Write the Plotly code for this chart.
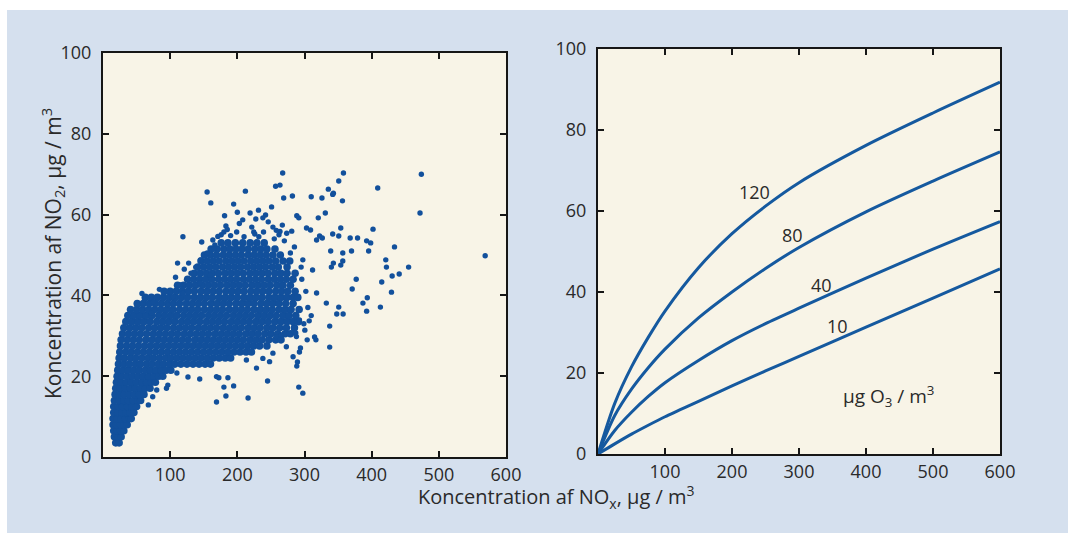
import plotly.graph_objects as go

# ---------------- Left panel: scatter (NOx vs NO2) ----------------
# Dense core of the cloud, typed row by row: NO2 level of each row and its NOx values
CORE_NO2_ROWS = [3.5, 5, 6.5, 8, 9.5, 11, 12.5, 14, 15.5, 17, 18.5, 20, 21.5, 23, 24.5,
                 26, 27.5, 29, 30.5, 32, 33.5, 35, 36.5, 38, 39.5, 41, 42.5, 44, 45.5,
                 47, 48.5, 50, 51.5, 53]
CORE_NOX_ROWS = [
    [19, 24],
    [17, 22, 27],
    [16, 21, 26, 31],
    [15, 20, 26, 31, 36],
    [15, 21, 27, 33, 39, 42],
    [16, 22, 28, 34, 40, 46],
    [16, 23, 29, 36, 43, 50],
    [17, 24, 31, 38, 45, 52, 56],
    [18, 25, 32, 39, 47, 54, 61],
    [19, 26, 33, 41, 48, 56, 63, 70],
    [20, 27, 35, 42, 50, 58, 65, 72, 78],
    [21, 28, 36, 44, 52, 60, 68, 76, 83, 89],
    [22, 30, 38, 46, 54, 63, 71, 79, 87, 94, 101],
    [23, 31, 39, 48, 56, 65, 73, 82, 90, 99, 107, 116, 125, 134, 143, 152, 160],
    [24, 32, 41, 49, 58, 67, 75, 84, 93, 101, 110, 119, 128, 137, 146, 155, 164, 173, 182, 190],
    [25, 34, 42, 51, 60, 69, 78, 87, 96, 105, 114, 123, 132, 141, 150, 159, 168, 177, 186, 195,
     204, 213, 221],
    [26, 35, 44, 53, 62, 71, 80, 89, 98, 107, 116, 125, 134, 143, 152, 161, 170, 179, 188, 197,
     206, 215, 224, 233, 244],
    [27, 36, 45, 54, 64, 73, 82, 91, 100, 109, 118, 127, 137, 146, 155, 164, 173, 182, 191, 200,
     209, 219, 228, 237, 247, 257, 265],
    [29, 38, 47, 56, 65, 75, 84, 93, 102, 111, 121, 130, 139, 148, 157, 167, 176, 185, 194, 203,
     213, 222, 231, 241, 250, 260, 271, 279],
    [31, 40, 49, 58, 68, 77, 86, 95, 105, 114, 123, 132, 142, 151, 160, 169, 179, 188, 197, 206,
     216, 225, 234, 244, 253, 263, 273, 285],
    [34, 43, 52, 61, 70, 80, 89, 98, 107, 117, 126, 135, 144, 154, 163, 172, 181, 191, 200, 209,
     218, 228, 237, 246, 256, 265, 274, 283, 291],
    [37, 46, 55, 64, 73, 83, 92, 101, 110, 120, 129, 138, 147, 157, 166, 175, 184, 194, 203, 212,
     221, 231, 240, 249, 258, 268, 277, 287],
    [41, 50, 59, 68, 77, 86, 95, 104, 114, 123, 132, 141, 151, 160, 169, 178, 188, 197, 206, 215,
     225, 234, 243, 252, 262, 271, 280, 292],
    [51, 60, 69, 78, 87, 96, 105, 114, 124, 133, 142, 151, 161, 170, 179, 188, 198, 207, 216, 225,
     235, 244, 253, 262, 272, 283],
    [63, 72, 81, 90, 99, 108, 117, 126, 136, 145, 154, 163, 173, 182, 191, 200, 210, 219, 228, 237,
     247, 256, 265, 274, 283, 290],
    [91, 100, 109, 118, 127, 136, 146, 155, 164, 173, 183, 192, 201, 210, 220, 229, 238, 247, 257,
     266, 275, 286],
    [111, 120, 129, 138, 148, 157, 166, 175, 185, 194, 203, 212, 222, 231, 240, 249, 259, 268, 279],
    [126, 135, 144, 153, 162, 172, 181, 190, 199, 209, 218, 227, 236, 246, 255, 264, 273, 283],
    [136, 145, 154, 163, 172, 182, 191, 200, 209, 219, 228, 237, 246, 256, 265, 274, 286],
    [141, 150, 159, 168, 178, 187, 196, 205, 215, 224, 233, 242, 252, 261, 274],
    [146, 155, 164, 173, 183, 192, 201, 210, 220, 229, 238, 247, 257, 268, 278],
    [151, 160, 169, 179, 188, 197, 206, 216, 225, 234, 243, 253, 264],
    [161, 170, 180, 189, 198, 207, 216, 226, 235, 244, 256],
    [176, 186, 197, 208, 219, 229, 240],
]

# Scattered points around the core
FRINGE_NOX = [358, 351, 409, 474, 472, 569, 335.5, 343, 342, 356.5, 282, 310, 326, 331, 320.5,
              288.5, 291.5, 354, 402, 368, 379, 392.5, 398.5, 434, 342, 351, 322.5, 318, 326.5,
              303, 309, 339, 357, 370, 395.5, 343, 354, 357, 421, 422, 455, 441, 430.5, 377,
              371, 415, 429.5, 393.5, 351, 348, 357.5, 387, 392.5, 413, 337.5, 315, 317, 337.5,
              291.5, 297.5, 289.5, 288.5, 292.5, 284, 287, 300.5, 307, 292.5,
              267.5, 257, 263.5, 269, 155, 212, 160.5, 194.5, 200, 219, 231.5, 251, 242, 238,
              181, 208, 227.5, 183, 180, 199, 221.5, 224.5, 239, 253, 267, 281, 119, 147, 166.5,
              111, 127.5, 116, 102.5, 263.5, 273.5, 163.5, 297.5, 312, 318, 332.5, 340,
              169, 216, 183, 180, 194.5, 172.5, 186, 245, 144, 126.5, 96.5, 94.5, 74, 67.5, 80,
              110, 253, 265.5, 273, 283, 238, 248, 213.5, 228.5, 169, 285, 288, 258,
              75, 52.5, 72, 97, 104.5, 119, 137, 144, 114, 159, 94.6,
              296, 302, 305, 299, 310, 295, 304, 294, 279, 285, 270, 262, 255, 232, 210, 190,
              176, 165, 155, 145, 138, 131, 84, 62, 108, 58, 121,
              203, 246, 185, 226, 258, 171]
FRINGE_NO2 = [70.3, 68.3, 66.6, 70, 60.4, 49.8, 66.3, 65.3, 65, 63.4, 64.6, 64.4, 64.1, 60.4, 59.2,
              59.7, 59.2, 56.7, 56.4, 54.2, 54.2, 53.5, 53, 52, 55.2, 54.7, 54.7, 53.7, 54.2,
              56.7, 56.2, 51, 50.5, 51, 51, 48, 47.5, 48.5, 48.8, 47, 47, 45.3, 44.8, 44,
              41.6, 43.3, 40.8, 39.4, 37.1, 35.4, 35.4, 38.1, 36.1, 37.1, 32.4, 29.7, 29, 27.2,
              17.3, 15.8, 23.5, 22.5, 26, 31, 30.7, 31.4, 33.7, 33.9,
              70.3, 67, 67.3, 64.1, 65.6, 65.8, 62.9, 62.6, 60.6, 60.4, 61.1, 61.9, 59.9, 59.2,
              59.7, 58.7, 58.9, 57.2, 55.7, 55.7, 56.9, 55.7, 55.7, 56.9, 57.4, 55.9, 54.5, 53.2,
              52.5, 48, 48, 42.6, 39.6, 55.8, 55.4, 53.7, 48.8, 46.3, 40.6, 38.1, 47,
              13.6, 14.6, 15.1, 17.3, 17.6, 19.6, 19.6, 18.8, 19.3, 19.8, 17.8, 17, 14.9, 12.9,
              16.6, 20.8, 25.7, 30.2, 27.3, 24.8, 24.4, 23.6, 24, 22, 19.9, 31.9, 29.8, 29.8,
              38.4, 37.6, 35.6, 37.6, 39.7, 40.5, 41.3, 43, 42.6, 45, 40.9,
              44, 41, 37, 33, 35, 47, 29, 27, 50.5, 52, 53.5, 55, 54, 54.5, 54.5, 54.8,
              55, 51.5, 50.5, 48.8, 47, 45.5, 41.5, 39, 44.5, 40.5, 46.5,
              57.8, 58.2, 56.3, 55.2, 56.1, 54.6]

# ---------------- Right panel: curves for several O3 levels ----------------
NOX_GRID = [0, 25, 50, 75, 100, 150, 200, 250, 300, 400, 500, 600]
NO2_O3_10 = [0, 2.5, 4.9, 7.1, 9.2, 13.0, 16.8, 20.5, 24.1, 31.3, 38.5, 45.7]
NO2_O3_40 = [0, 5.8, 10.3, 14.2, 17.6, 23.1, 28.0, 32.2, 36.0, 43.4, 50.6, 57.4]
NO2_O3_80 = [0, 9.5, 16.0, 21.3, 25.9, 33.6, 40.0, 45.8, 51.0, 59.8, 67.4, 74.6]
NO2_O3_120 = [0, 12.5, 21.5, 28.8, 35.3, 46.0, 54.4, 61.2, 67.0, 76.2, 84.2, 91.8]
CURVE_LABELS = ["120", "80", "40", "10"]
LABEL_X = [233, 291, 334, 358]
LABEL_Y = [64.7, 54.0, 41.7, 31.5]

X_TICKS = [100, 200, 300, 400, 500, 600]
Y_TICKS = [0, 20, 40, 60, 80, 100]

# ---------------- Build figure ----------------
core_x = [x for row in CORE_NOX_ROWS for x in row]
core_y = [y for y, row in zip(CORE_NO2_ROWS, CORE_NOX_ROWS) for _ in row]

DOT = "#12509c"
LINE = "#15599f"
FONT = "Open Sans"
TXT = "#2a2a2a"

fig = go.Figure()
fig.add_trace(go.Scatter(x=core_x, y=core_y, mode="markers", xaxis="x", yaxis="y",
                         marker=dict(size=7.6, color=DOT), hoverinfo="skip", showlegend=False))
fig.add_trace(go.Scatter(x=FRINGE_NOX, y=FRINGE_NO2, mode="markers", xaxis="x", yaxis="y",
                         marker=dict(size=5.4, color=DOT), hoverinfo="skip", showlegend=False))

for ys in [NO2_O3_120, NO2_O3_80, NO2_O3_40, NO2_O3_10]:
    fig.add_trace(go.Scatter(x=NOX_GRID, y=ys, mode="lines", xaxis="x2", yaxis="y2",
                             line=dict(color=LINE, width=3, shape="spline", smoothing=0.8),
                             hoverinfo="skip", showlegend=False))

W, H = 1068, 533
ML, MR, MT, MB = 30, 30, 30, 30
PW, PH = W - ML - MR, H - MT - MB

def fx(px):
    return (px - ML) / PW

def fy(py):
    return (H - MB - py) / PH

axis_common = dict(
    showgrid=False, zeroline=False, showline=True, linecolor="#161616", linewidth=2,
    mirror="ticks", ticks="inside", ticklen=6, tickwidth=1.6, tickcolor="#161616",
    tickfont=dict(family=FONT, size=18, color=TXT),
)

fig.update_layout(
    width=W, height=H,
    margin=dict(l=ML, r=MR, t=MT, b=MB, autoexpand=False),
    paper_bgcolor="#d5e0ee",
    plot_bgcolor="#f8f4e7",
    xaxis=dict(domain=[fx(103), fx(506)], range=[0, 600], tickvals=X_TICKS, anchor="y",
               ticklabelstandoff=0, **axis_common),
    yaxis=dict(domain=[fy(457), fy(53)], range=[0, 100], tickvals=Y_TICKS, anchor="x",
               ticklabelstandoff=6, **axis_common),
    xaxis2=dict(domain=[fx(598), fx(1000)], range=[0, 600], tickvals=X_TICKS, anchor="y2",
                ticklabelstandoff=0, **axis_common),
    yaxis2=dict(domain=[fy(454), fy(49)], range=[0, 100], tickvals=Y_TICKS, anchor="x2",
                ticklabelstandoff=6, **axis_common),
    shapes=[
        dict(type="rect", xref="paper", yref="paper", x0=fx(0), x1=fx(W), y0=fy(10), y1=fy(0),
             fillcolor="white", line=dict(width=0), layer="below"),
        dict(type="rect", xref="paper", yref="paper", x0=fx(0), x1=fx(7), y0=fy(H), y1=fy(0),
             fillcolor="white", line=dict(width=0), layer="below"),
    ],
)

annotations = []
for lab, lx, ly in zip(CURVE_LABELS, LABEL_X, LABEL_Y):
    annotations.append(dict(x=lx, y=ly, xref="x2", yref="y2", text=lab, showarrow=False,
                            xanchor="center", yanchor="middle",
                            font=dict(family=FONT, size=18, color=TXT)))
annotations.append(dict(x=433, y=14.2, xref="x2", yref="y2",
                        text="µg O<sub>3</sub> / m<sup>3</sup>", showarrow=False,
                        xanchor="center", yanchor="middle",
                        font=dict(family=FONT, size=19, color=TXT)))
annotations.append(dict(x=fx(556), y=fy(497), xref="paper", yref="paper",
                        text="Koncentration af NO<sub>x</sub>, µg / m<sup>3</sup>",
                        showarrow=False, xanchor="center", yanchor="middle",
                        font=dict(family=FONT, size=20, color=TXT)))
annotations.append(dict(x=fx(52), y=fy(254), xref="paper", yref="paper", textangle=-90,
                        text="Koncentration af NO<sub>2</sub>, µg / m<sup>3</sup>",
                        showarrow=False, xanchor="center", yanchor="middle",
                        font=dict(family=FONT, size=21, color=TXT)))
fig.update_layout(annotations=annotations)

fig.write_html("out.html")
